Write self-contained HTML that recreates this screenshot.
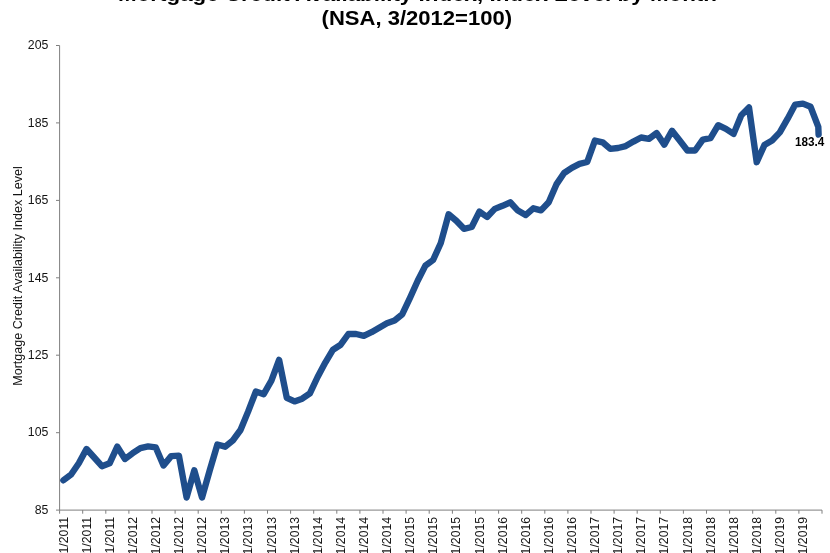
<!DOCTYPE html>
<html><head><meta charset="utf-8"><title>Mortgage Credit Availability Index</title>
<style>
html,body{margin:0;padding:0;background:#fff;}
body{width:830px;height:553px;overflow:hidden;font-family:"Liberation Sans",Arial,sans-serif;}
svg{display:block;}
svg text{font-family:"Liberation Sans",Arial,sans-serif;}
</style></head><body>
<svg width="830" height="553" viewBox="0 0 830 553">
<rect width="830" height="553" fill="#ffffff"/>
<text x="417.5" y="1" text-anchor="middle" font-size="21" font-weight="bold" fill="#000" textLength="599" lengthAdjust="spacingAndGlyphs">Mortgage Credit Availability Index, Index Level by Month</text>
<text x="416.8" y="24.9" text-anchor="middle" font-size="21" font-weight="bold" fill="#000" textLength="190.5" lengthAdjust="spacingAndGlyphs">(NSA, 3/2012=100)</text>
<g stroke="#7f7f7f" stroke-width="1" fill="none">
<line x1="59.6" y1="45.5" x2="59.6" y2="510.1"/>
<line x1="59.6" y1="510.1" x2="822.0" y2="510.1"/>
<line x1="56.0" y1="45.5" x2="59.6" y2="45.5"/>
<line x1="56.0" y1="122.9" x2="59.6" y2="122.9"/>
<line x1="56.0" y1="200.4" x2="59.6" y2="200.4"/>
<line x1="56.0" y1="277.8" x2="59.6" y2="277.8"/>
<line x1="56.0" y1="355.2" x2="59.6" y2="355.2"/>
<line x1="56.0" y1="432.7" x2="59.6" y2="432.7"/>
<line x1="56.0" y1="510.1" x2="59.6" y2="510.1"/>
<line x1="59.6" y1="510.1" x2="59.6" y2="513.7"/>
<line x1="82.7" y1="510.1" x2="82.7" y2="513.7"/>
<line x1="105.8" y1="510.1" x2="105.8" y2="513.7"/>
<line x1="128.9" y1="510.1" x2="128.9" y2="513.7"/>
<line x1="152.0" y1="510.1" x2="152.0" y2="513.7"/>
<line x1="175.1" y1="510.1" x2="175.1" y2="513.7"/>
<line x1="198.2" y1="510.1" x2="198.2" y2="513.7"/>
<line x1="221.3" y1="510.1" x2="221.3" y2="513.7"/>
<line x1="244.4" y1="510.1" x2="244.4" y2="513.7"/>
<line x1="267.5" y1="510.1" x2="267.5" y2="513.7"/>
<line x1="290.6" y1="510.1" x2="290.6" y2="513.7"/>
<line x1="313.7" y1="510.1" x2="313.7" y2="513.7"/>
<line x1="336.8" y1="510.1" x2="336.8" y2="513.7"/>
<line x1="359.9" y1="510.1" x2="359.9" y2="513.7"/>
<line x1="383.0" y1="510.1" x2="383.0" y2="513.7"/>
<line x1="406.1" y1="510.1" x2="406.1" y2="513.7"/>
<line x1="429.2" y1="510.1" x2="429.2" y2="513.7"/>
<line x1="452.4" y1="510.1" x2="452.4" y2="513.7"/>
<line x1="475.5" y1="510.1" x2="475.5" y2="513.7"/>
<line x1="498.6" y1="510.1" x2="498.6" y2="513.7"/>
<line x1="521.7" y1="510.1" x2="521.7" y2="513.7"/>
<line x1="544.8" y1="510.1" x2="544.8" y2="513.7"/>
<line x1="567.9" y1="510.1" x2="567.9" y2="513.7"/>
<line x1="591.0" y1="510.1" x2="591.0" y2="513.7"/>
<line x1="614.1" y1="510.1" x2="614.1" y2="513.7"/>
<line x1="637.2" y1="510.1" x2="637.2" y2="513.7"/>
<line x1="660.3" y1="510.1" x2="660.3" y2="513.7"/>
<line x1="683.4" y1="510.1" x2="683.4" y2="513.7"/>
<line x1="706.5" y1="510.1" x2="706.5" y2="513.7"/>
<line x1="729.6" y1="510.1" x2="729.6" y2="513.7"/>
<line x1="752.7" y1="510.1" x2="752.7" y2="513.7"/>
<line x1="775.8" y1="510.1" x2="775.8" y2="513.7"/>
<line x1="798.9" y1="510.1" x2="798.9" y2="513.7"/>
<line x1="822.0" y1="510.1" x2="822.0" y2="513.7"/>
</g>
<g font-size="12.3" fill="#141414" text-anchor="end">
<text x="48.4" y="49.2">205</text>
<text x="48.4" y="126.6">185</text>
<text x="48.4" y="204.1">165</text>
<text x="48.4" y="281.5">145</text>
<text x="48.4" y="358.9">125</text>
<text x="48.4" y="436.4">105</text>
<text x="48.4" y="513.8">85</text>
</g>
<text transform="translate(21.8,276) rotate(-90)" text-anchor="middle" font-size="12.55" fill="#141414">Mortgage Credit Availability Index Level</text>
<g font-size="12.3" fill="#141414" text-anchor="end">
<text transform="translate(67.5,516.8) rotate(-90)">6/1/2011</text>
<text transform="translate(90.6,516.8) rotate(-90)">9/1/2011</text>
<text transform="translate(113.7,516.8) rotate(-90)">12/1/2011</text>
<text transform="translate(136.8,516.8) rotate(-90)">3/1/2012</text>
<text transform="translate(159.9,516.8) rotate(-90)">6/1/2012</text>
<text transform="translate(183.0,516.8) rotate(-90)">9/1/2012</text>
<text transform="translate(206.1,516.8) rotate(-90)">12/1/2012</text>
<text transform="translate(229.2,516.8) rotate(-90)">3/1/2013</text>
<text transform="translate(252.3,516.8) rotate(-90)">6/1/2013</text>
<text transform="translate(275.5,516.8) rotate(-90)">9/1/2013</text>
<text transform="translate(298.6,516.8) rotate(-90)">12/1/2013</text>
<text transform="translate(321.7,516.8) rotate(-90)">3/1/2014</text>
<text transform="translate(344.8,516.8) rotate(-90)">6/1/2014</text>
<text transform="translate(367.9,516.8) rotate(-90)">9/1/2014</text>
<text transform="translate(391.0,516.8) rotate(-90)">12/1/2014</text>
<text transform="translate(414.1,516.8) rotate(-90)">3/1/2015</text>
<text transform="translate(437.2,516.8) rotate(-90)">6/1/2015</text>
<text transform="translate(460.4,516.8) rotate(-90)">9/1/2015</text>
<text transform="translate(483.5,516.8) rotate(-90)">12/1/2015</text>
<text transform="translate(506.6,516.8) rotate(-90)">3/1/2016</text>
<text transform="translate(529.7,516.8) rotate(-90)">6/1/2016</text>
<text transform="translate(552.8,516.8) rotate(-90)">9/1/2016</text>
<text transform="translate(575.9,516.8) rotate(-90)">12/1/2016</text>
<text transform="translate(599.0,516.8) rotate(-90)">3/1/2017</text>
<text transform="translate(622.1,516.8) rotate(-90)">6/1/2017</text>
<text transform="translate(645.2,516.8) rotate(-90)">9/1/2017</text>
<text transform="translate(668.4,516.8) rotate(-90)">12/1/2017</text>
<text transform="translate(691.5,516.8) rotate(-90)">3/1/2018</text>
<text transform="translate(714.6,516.8) rotate(-90)">6/1/2018</text>
<text transform="translate(737.7,516.8) rotate(-90)">9/1/2018</text>
<text transform="translate(760.8,516.8) rotate(-90)">12/1/2018</text>
<text transform="translate(783.9,516.8) rotate(-90)">3/1/2019</text>
<text transform="translate(807.0,516.8) rotate(-90)">6/1/2019</text>
</g>
<polyline points="63.4,480.3 71.1,474.5 78.8,463.3 86.5,449.0 94.2,457.5 101.9,466.2 109.6,463.3 117.3,446.7 125.0,459.0 132.7,453.2 140.4,448.1 148.1,446.4 155.8,447.4 163.5,465.5 171.2,456.1 178.9,455.6 186.6,497.5 194.3,470.3 202.0,497.5 209.7,470.5 217.4,444.5 225.1,446.7 232.8,440.5 240.5,430.0 248.2,411.4 255.9,391.5 263.7,394.2 271.4,380.7 279.1,359.9 286.8,397.8 294.5,401.4 302.2,398.7 309.9,393.3 317.6,377.0 325.3,362.6 333.0,349.7 340.7,344.7 348.4,334.0 356.1,334.0 363.8,335.8 371.5,332.2 379.2,327.7 386.9,323.2 394.6,320.5 402.3,314.2 410.0,297.9 417.7,280.7 425.4,265.6 433.1,260.0 440.8,243.0 448.6,214.3 456.3,220.7 464.0,228.8 471.7,227.0 479.4,211.6 487.1,217.0 494.8,208.9 502.5,205.8 510.2,202.3 517.9,210.6 525.6,215.1 533.3,208.3 541.0,210.4 548.7,202.2 556.4,184.4 564.1,173.0 571.8,167.8 579.5,163.9 587.2,162.0 594.9,140.6 602.6,142.3 610.3,148.9 618.0,148.0 625.7,146.1 633.4,141.6 641.1,137.5 648.9,138.9 656.6,133.1 664.3,144.6 672.0,130.8 679.7,140.6 687.4,150.5 695.1,150.5 702.8,139.6 710.5,138.2 718.2,125.2 725.9,128.8 733.6,133.9 741.3,115.2 749.0,107.5 756.7,162.2 764.4,145.1 772.1,140.5 779.8,132.4 787.5,118.9 795.2,104.6 802.9,103.6 810.6,106.8 818.3,126.9 818.6,134.5" fill="none" stroke="#1f4e8c" stroke-width="6.4" stroke-linejoin="round" stroke-linecap="round"/>
<text x="795" y="146.3" font-size="12" font-weight="bold" fill="#000" textLength="29.4" lengthAdjust="spacingAndGlyphs">183.4</text>
</svg>
</body></html>
